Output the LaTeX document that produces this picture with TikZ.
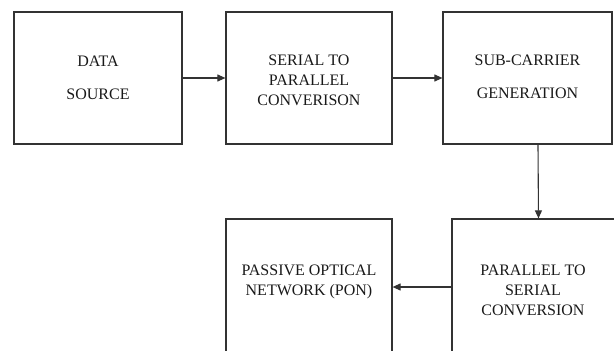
\documentclass[tikz,border=0pt]{standalone}
\usepackage{fontspec}
\setmainfont{Liberation Serif}
\usetikzlibrary{arrows.meta}
\begin{document}
\begin{tikzpicture}[x=1pt,y=-1pt,
  box/.style={draw=black!80, line width=1.2pt, minimum height=132pt, inner sep=0pt},
  lowbox/.style={box, minimum height=136pt},
  label/.style={anchor=north, align=center, inner sep=0pt, text=black!90,
    font=\fontsize{16}{20}\selectfont},
  arr/.style={draw=black!80, line width=1.1pt, -{Triangle[length=8pt,width=7pt]}}]
\useasboundingbox (0,0) rectangle (614,351);
\clip (0,0) rectangle (614,351);
\node[box, minimum width=168pt] (b1) at (98,78) {};
\node[box, minimum width=166pt] (b2) at (309,78) {};
\node[box, minimum width=169pt] (b3) at (527.5,78) {};
\node[lowbox, minimum width=166pt] (b4) at (309,287) {};
\node[lowbox, minimum width=164pt] (b5) at (534,287) {};
\node[label] (t1) at (98,55.4) {DATA\\[13pt]SOURCE};
\node[label] (t2) at (309,54.4) {SERIAL TO\\PARALLEL\\CONVERISON};
\node[label] (t3) at (527.5,54.4) {SUB-CARRIER\\[13pt]GENERATION};
\node[label] (t4) at (309,264.4) {PASSIVE OPTICAL\\NETWORK (PON)};
\node[label] (t5) at (533,264.4) {PARALLEL TO\\SERIAL\\CONVERSION};
\draw[arr] (b1.east) -- (b2.west);
\draw[arr] (b2.east) -- (b3.west);
\draw[arr] ([xshift=10.5pt]b3.south) -- ([xshift=4.5pt]b5.north);
\draw[arr] (b5.west) -- (b4.east);
\end{tikzpicture}
\end{document}
